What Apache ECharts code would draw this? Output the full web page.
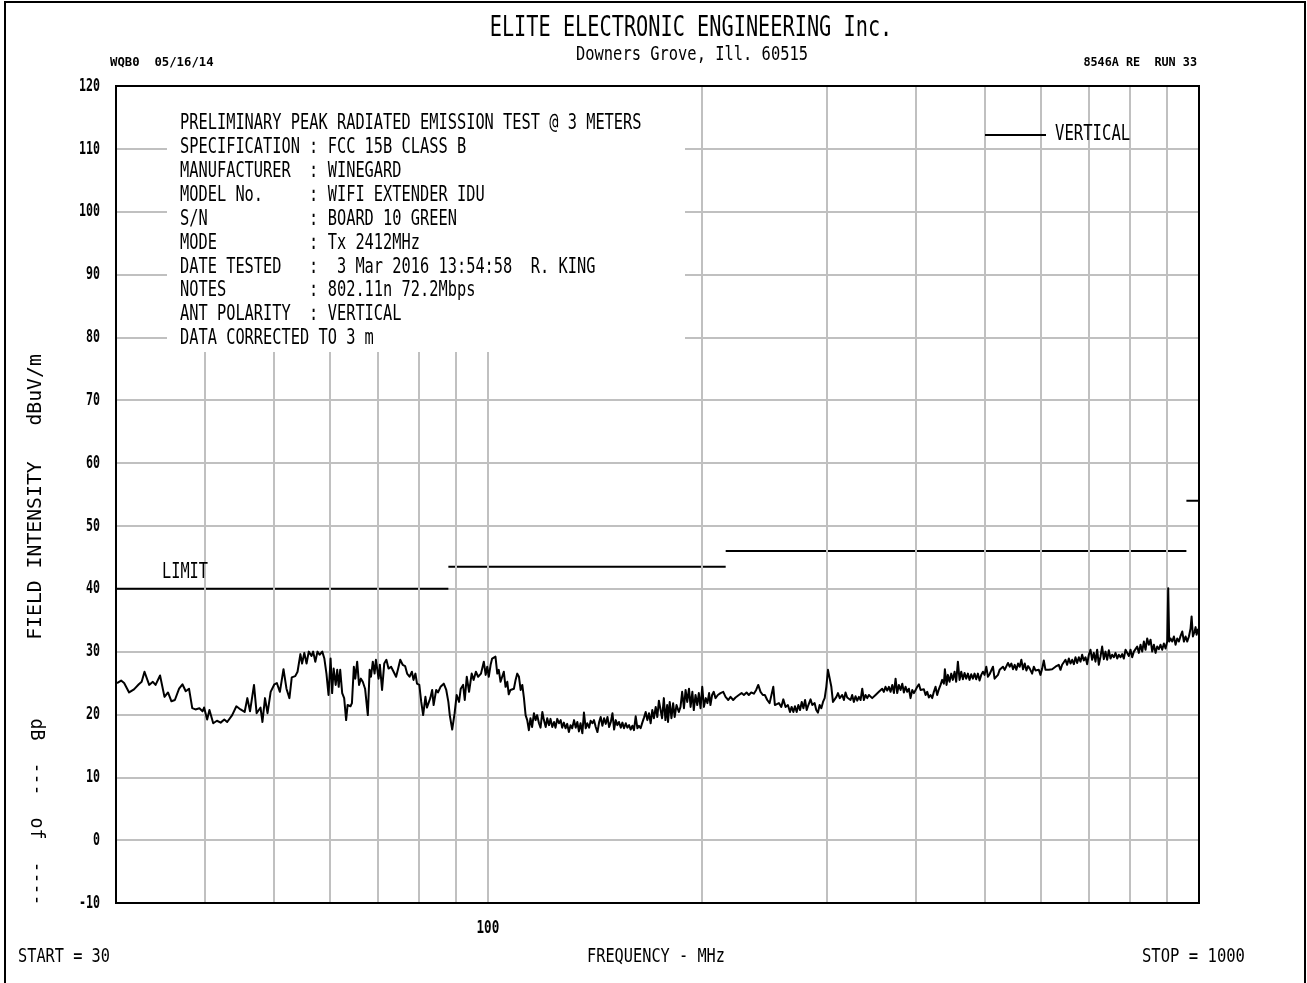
<!DOCTYPE html>
<html>
<head>
<meta charset="utf-8">
<script src="https://cdn.jsdelivr.net/npm/echarts@6/dist/echarts.min.js"></script>
<style>
  html, body { margin: 0; padding: 0; background: #fff; }
  #chart { width: 1307px; height: 983px; }
</style>
</head>
<body>
<div id="chart"></div>
<script>
// Peak radiated emission sweep, 30 MHz - 1 GHz, vertical antenna polarity.
const traceFreq = [
  30.1, 30.5, 30.8, 31.3, 31.8, 32.3, 32.6, 32.9, 33.4, 33.8, 34.1, 34.6, 35.1, 35.5, 35.9, 36.3, 36.8, 37.2, 37.6, 38.0,
  38.4, 38.8, 39.3, 39.7, 39.9, 40.3, 40.6, 41.1, 41.6, 42.1, 42.6, 43.0, 43.7, 44.3, 44.9, 45.5, 45.9, 46.3, 46.9, 47.3,
  47.9, 48.2, 48.6, 49.0, 49.5, 50.1, 50.5, 51.0, 51.6, 52.1, 52.6, 53.0, 53.6, 54.0,
  54.5, 54.8, 55.2, 55.6, 56.0, 56.5, 56.8, 57.2, 57.6, 58.0, 58.5, 58.9, 59.3, 59.7, 60.1, 60.4, 60.7, 61.1, 61.4, 61.7,
  62.0, 62.4, 62.8, 63.2, 63.5, 64.1, 64.4, 64.8, 65.1, 65.5, 65.9, 66.3, 66.7, 67.2, 67.8, 68.2, 68.5, 68.9, 69.3, 69.6,
  70.2, 70.5, 71.0, 71.5, 72.0, 72.5, 73.1, 73.7, 74.3, 74.8, 75.3, 75.9, 76.5, 77.0, 77.6, 78.2, 78.6, 79.1, 79.5, 80.1,
  80.6, 81.1, 81.7, 82.1, 82.5, 83.0, 83.5, 83.9, 84.6, 85.1, 85.8, 86.7, 87.4, 88.0, 88.4, 89.1, 89.8, 90.4, 91.1, 91.6,
  92.3, 92.8, 93.4, 94.1, 94.9, 95.5, 96.2, 96.9, 97.8,
  98.2, 98.7, 99.3, 99.8, 100.3, 100.9, 101.4, 102.0, 102.5, 103.1, 103.6, 104.2, 104.8, 105.3, 105.9, 106.5, 107.0, 107.6,
  108.2, 108.8, 109.4, 110.0, 110.6, 111.2, 111.8, 112.4, 113.0, 113.6, 114.2, 114.8, 115.4, 116.1, 116.7, 117.3, 118.0,
  118.6, 119.3, 119.9, 120.6, 121.2, 121.9, 122.5, 123.2, 123.9, 124.5, 125.2, 125.9, 126.6, 127.2, 127.9, 128.6, 129.3,
  130.0, 130.7, 131.4, 132.2, 132.9, 133.6, 134.3, 135.0, 135.8, 136.5, 137.3, 138.0, 138.8, 139.5, 140.3, 141.0, 141.8,
  142.6, 143.4, 144.1, 144.9, 145.7, 146.5, 147.3, 148.1, 148.9, 149.7, 150.5, 151.3, 152.1, 152.9, 153.8, 154.6, 155.4,
  156.3, 157.1, 158.0, 158.8, 159.7, 160.5, 161.4, 162.3, 163.1, 164.0, 164.9, 165.8, 166.7, 167.6, 168.5, 169.4, 170.3,
  171.2, 172.2, 173.1, 174.0,
  175.8, 176.8, 177.7, 178.7, 179.2, 180.2, 181.2, 182.2, 183.1, 184.2, 185.6, 186.6, 187.6, 188.7, 189.7, 190.7, 191.8,
  192.8, 193.9, 194.8, 195.9, 197.0, 198.0, 199.1, 200.2, 201.3, 202.5, 203.6, 204.7, 205.6, 206.7, 207.8, 209.0, 210.6,
  212.4, 214.3, 215.9, 217.8, 219.4, 221.3, 223.0, 225.4, 227.4, 229.1, 231.1, 232.8, 234.6, 236.6, 238.4, 240.0, 241.8,
  243.6, 245.2, 247.1, 249.0, 250.6, 252.0, 253.3, 254.7, 256.6, 258.6, 260.3, 262.2, 264.2, 266.0, 267.4, 268.9, 270.3,
  271.8, 273.3, 274.8, 276.3, 277.8, 279.3, 280.8, 282.3, 284.3, 285.9, 288.1, 289.6, 291.2, 292.8, 294.4, 296.0, 297.6,
  299.2, 300.8, 302.5, 304.1, 305.7, 307.4, 309.1, 310.7, 312.5,
  315.0, 316.7, 318.4, 320.1, 321.8, 323.6, 325.3, 327.1, 328.9, 330.7, 332.5, 334.3, 336.1, 337.9, 339.7, 341.6, 343.4,
  345.3, 347.1, 349.0, 350.9, 352.8, 354.7, 356.6, 358.5, 360.4, 362.4, 364.4, 366.4, 368.4, 370.4, 372.4, 374.4, 376.4,
  378.4, 380.5, 382.6, 384.6, 386.7, 388.8, 390.9, 393.0, 395.2, 397.3, 399.5, 401.6, 403.8, 406.0, 408.2, 410.3, 412.6,
  414.8, 417.0, 419.3, 421.6, 423.8, 426.1, 428.4, 430.7, 433.1, 435.4, 437.8, 439.2, 441.6, 443.5, 445.9, 448.3, 450.7,
  453.2, 455.6, 458.1, 460.6, 463.1, 465.6, 468.1, 470.6, 473.2, 475.7, 478.3, 480.9, 483.5, 486.1, 488.8, 491.4, 494.1,
  496.8, 499.4, 502.2, 504.9, 507.6, 510.4, 513.2, 515.9, 518.7, 521.6, 524.4, 527.2, 530.1, 533.0, 535.9, 538.8, 541.7,
  544.7, 547.6, 550.6, 553.6, 556.6, 559.6, 562.6, 565.7, 568.8, 571.9, 575.0, 578.1,
  582.6, 585.8, 588.9, 592.1, 595.3, 598.5, 601.8, 605.0, 608.3, 611.6, 614.9, 618.2, 621.6, 624.9, 628.3, 631.7, 635.1,
  638.6, 642.0, 645.5, 649.0, 652.5, 656.1, 659.6, 663.2, 666.8, 670.4, 674.0, 677.7, 681.3, 685.0, 688.7, 692.5, 696.2,
  700.0, 703.7, 707.5, 711.4, 715.2, 719.1, 723.0, 726.9, 730.8, 734.8, 738.8, 742.8, 746.8, 750.9, 754.9, 759.0, 763.1,
  767.3, 771.4, 775.6, 779.8, 784.0, 788.3, 792.5, 796.8, 801.1, 805.5, 809.8, 814.2, 818.6, 823.1, 827.5, 832.0, 836.5,
  841.0, 845.6, 850.2, 854.8, 859.4, 864.1, 868.7, 873.4, 878.2, 882.9, 887.7, 892.5, 897.4, 902.2, 905.1, 908.1, 912.0,
  917.0, 921.9, 926.9, 931.9, 937.0, 942.1, 947.2, 952.3, 957.5, 962.7, 967.9, 973.1, 976.3, 980.5, 985.8, 989.0, 992.2,
  996.5, 999.7
];

const traceLevel = [
  25.0, 25.4, 25.0, 23.5, 24.0, 24.8, 25.2, 26.8, 24.7, 25.2, 24.7, 26.2, 22.8, 23.5, 22.1, 22.3, 24.1, 24.8, 23.7, 24.1,
  21.0, 20.8, 21.0, 20.5, 21.1, 19.2, 20.7, 18.6, 19.0, 18.7, 19.2, 18.8, 19.9, 21.3, 20.8, 20.4, 22.6, 20.5, 24.7, 20.2,
  21.1, 18.8, 22.6, 20.2, 23.6, 24.8, 25.0, 23.6, 27.2, 24.1, 22.6, 25.9, 26.1, 26.8,
  29.6, 28.1, 29.8, 28.1, 30.0, 29.3, 30.0, 28.4, 30.0, 29.5, 30.0, 28.9, 26.5, 23.1, 28.9, 23.4, 27.3, 24.7, 27.1, 24.4,
  27.1, 23.4, 22.6, 19.1, 21.5, 21.3, 21.8, 27.6, 25.7, 28.4, 24.7, 25.7, 25.2, 24.1, 19.9, 27.1, 26.0, 28.4, 26.5, 28.7,
  25.7, 27.9, 23.9, 28.1, 28.7, 27.3, 27.6, 26.8, 26.0, 27.3, 28.7, 27.9, 27.7, 26.5, 26.0, 26.8, 25.5, 26.5, 24.9, 24.7,
  22.0, 19.9, 22.8, 21.1, 21.2, 22.6, 23.9, 21.5, 23.9, 23.5, 24.4, 24.9, 23.9, 22.0, 19.9, 17.6, 20.2, 23.1, 22.0, 24.1,
  24.7, 22.3, 26.0, 23.6, 26.5, 25.5, 26.8, 26.0, 26.5,
  26.5, 28.4, 26.3, 27.6, 26.0, 27.9, 28.9, 28.7, 29.2, 26.5, 27.1, 25.2, 25.5, 26.8, 24.4, 25.2, 23.2, 23.9,
  23.6, 24.1, 25.5, 26.5, 26.0, 23.9, 24.7, 22.6, 19.9, 19.1, 17.5, 19.4, 18.0, 20.2, 19.1, 19.9, 18.6,
  17.9, 20.4, 19.1, 18.0, 19.4, 18.3, 19.3, 18.0, 18.8, 17.9, 19.3, 18.6, 19.1, 17.9, 18.7, 17.8, 18.5,
  17.2, 18.3, 17.8, 19.1, 17.9, 18.8, 17.3, 18.6, 17.0, 20.3, 17.8, 18.6, 17.9, 19.0, 18.6, 19.1, 18.0,
  17.2, 18.8, 19.6, 18.2, 19.4, 18.5, 19.6, 18.0, 18.8, 20.2, 17.6, 19.1, 18.3, 18.8, 17.9, 18.7, 17.8,
  18.6, 17.9, 18.3, 17.6, 18.2, 17.5, 19.7, 17.8, 18.2, 17.8, 18.7, 19.5, 20.4, 19.1, 20.2, 18.6, 20.7,
  19.4, 21.2, 19.6, 22.2,
  19.4, 22.6, 19.1, 21.5, 18.8, 22.0, 19.4, 21.8, 19.6, 21.5, 20.4, 21.2, 23.6, 21.0, 23.9, 22.0, 24.1,
  21.2, 23.6, 20.7, 23.1, 21.5, 23.4, 21.0, 24.4, 21.2, 22.6, 21.8, 23.4, 21.5, 23.1, 23.6, 22.6, 23.1,
  23.4, 23.6, 22.8, 22.3, 22.8, 22.3, 22.7, 23.1, 23.4, 23.1, 23.5, 23.1, 23.5, 23.3, 23.9, 24.7, 23.6,
  23.1, 23.1, 22.3, 21.8, 21.5, 24.4, 21.5, 21.2, 21.8, 21.2, 22.4, 21.2, 21.5, 20.4, 21.2, 20.4, 21.3,
  20.4, 21.5, 20.7, 22.0, 21.0, 22.3, 20.7, 21.5, 22.4, 21.5, 21.8, 20.7, 20.3, 21.5, 21.0, 22.0, 22.6,
  24.4, 27.1, 27.3, 24.4, 22.0, 22.0, 22.8, 23.4, 22.6,
  23.1, 22.3, 23.5, 22.7, 22.9, 22.3, 23.1, 22.0, 22.9, 22.2, 22.8, 22.3, 24.1, 22.3, 23.1, 22.6, 23.1,
  22.9, 22.6, 22.7, 23.1, 23.2, 23.6, 23.5, 24.1, 23.6, 24.4, 23.8, 24.4, 23.6, 24.7, 23.4, 25.7, 23.4,
  24.7, 23.9, 24.9, 23.5, 24.4, 23.6, 24.1, 22.6, 23.9, 23.4, 23.9, 24.4, 24.8, 23.9, 23.6, 24.0, 23.1,
  23.6, 22.7, 23.1, 22.6, 23.6, 24.4, 23.1, 24.0, 24.7, 25.5, 24.9, 27.2, 24.7, 26.3, 25.2, 26.5, 25.5,
  26.8, 25.2, 28.4, 25.5, 26.8, 25.6, 26.6, 25.7, 26.5, 25.5, 26.4, 25.7, 26.5, 25.6, 26.5, 25.4, 26.3,
  26.8, 26.3, 27.6, 26.0, 26.4, 26.3, 27.6, 25.7, 26.0, 26.3, 27.1, 26.8, 27.6, 27.1, 27.3, 28.2, 27.6,
  28.1, 27.2, 27.9, 27.1, 28.1, 27.6, 28.7, 27.2, 28.1, 27.0, 27.7, 27.3,
  26.5, 27.6, 27.0, 27.3, 27.1, 26.3, 27.3, 28.6, 27.1, 27.3, 27.1, 27.3, 27.2, 27.3, 27.6, 27.3, 27.9,
  27.1, 27.9, 27.6, 28.7, 27.9, 28.9, 28.1, 28.7, 28.0, 29.1, 28.2, 29.1, 28.4, 29.5, 28.6, 29.1, 28.0,
  29.5, 30.3, 28.7, 29.8, 28.4, 30.3, 27.9, 29.2, 30.8, 28.8, 30.0, 28.7, 30.2, 28.9, 29.5, 29.1, 29.8,
  28.9, 29.5, 29.1, 29.6, 28.9, 30.3, 30.5, 29.3, 30.3, 29.1, 30.0, 30.3, 30.8, 29.8, 31.1, 30.0, 31.6,
  30.3, 32.1, 31.1, 31.9, 30.0, 31.1, 29.8, 30.8, 30.4, 31.1, 30.3, 31.3, 30.5, 31.6, 40.1, 31.6, 32.1,
  31.6, 32.4, 31.1, 32.1, 31.6, 32.5, 33.2, 31.6, 32.4, 31.6, 32.4, 33.7, 35.6, 32.4, 33.2, 33.9, 32.7,
  33.5, 32.9
];

// FCC Part 15 Class B radiated limit at 3 m (dBuV/m), stepped by band.
const limitStart = [30, 88, 216, 960];
const limitStop = [88, 216, 960, 1000];
const limitLevel = [40, 43.5, 46, 54];

// Frequency grid (MHz) drawn across the log axis, and the one labelled decade.
const gridFreqs = [40, 50, 60, 70, 80, 90, 100, 200, 300, 400, 500, 600, 700, 800, 900];
const freqTicks = [100];

// Level axis range, step and labelled ticks (dBuV/m).
const levelMin = -10;
const levelMax = 120;
const levelStep = 10;
const levelTicks = [-10, 0, 10, 20, 30, 40, 50, 60, 70, 80, 90, 100, 110, 120];

const headerLines = ['ELITE ELECTRONIC ENGINEERING Inc.', 'Downers Grove, Ill. 60515'];
const plotterId = 'WQB0  05/16/14';
const runId = '8546A RE  RUN 33';
const infoLabels = [
  'PRELIMINARY PEAK RADIATED EMISSION TEST @ 3 METERS',
  'SPECIFICATION', 'MANUFACTURER', 'MODEL No.', 'S/N', 'MODE',
  'DATE TESTED', 'NOTES', 'ANT POLARITY', 'DATA CORRECTED TO 3 m'
];
const infoValues = [
  '', 'FCC 15B CLASS B', 'WINEGARD', 'WIFI EXTENDER IDU', 'BOARD 10 GREEN', 'Tx 2412MHz',
  ' 3 Mar 2016 13:54:58  R. KING', '802.11n 72.2Mbps', 'VERTICAL', ''
];
const seriesName = 'VERTICAL';
const limitName = 'LIMIT';
const yTitle = 'FIELD INTENSITY   dBuV/m';
const yScaleNote = 'dB  ---  of  ----';
const startLabel = 'START = 30';
const stopLabel = 'STOP = 1000';
const xTitle = 'FREQUENCY - MHz';

// ---------------------------------------------------------------------------
const MONO = '"DejaVu Sans Mono", "Liberation Mono", monospace';
const GRID = { left: 116, top: 86, width: 1083, height: 817 };

// Plotter-style lettering: a monospaced face squeezed to a fixed character pitch.
function plotText(str, x, y, size, pitch, opt) {
  opt = opt || {};
  return {
    type: 'text',
    x: x, y: y,
    rotation: opt.rotation || 0,
    scaleX: pitch / (0.602 * size),
    z: 30,
    silent: true,
    style: {
      text: str,
      fill: '#000',
      font: (opt.weight || 'normal') + ' ' + size + 'px ' + MONO,
      textAlign: opt.align || 'left',
      textVerticalAlign: 'middle'
    }
  };
}

const traceData = traceFreq.map((f, i) => [f, traceLevel[i]]);
const limitData = [];
limitStart.forEach((s, i) => {
  limitData.push([s, limitLevel[i]], [limitStop[i], limitLevel[i]], [limitStop[i], '-']);
});

const chart = echarts.init(document.getElementById('chart'), null, { renderer: 'canvas' });
chart.setOption({
  animation: false,
  backgroundColor: '#fff',
  grid: Object.assign({ containLabel: false }, GRID),
  xAxis: {
    type: 'log',
    logBase: 10,
    min: 30,
    max: 1000,
    axisLine: { show: false },
    axisTick: { show: false },
    splitLine: { show: false },
    axisLabel: { show: false }
  },
  yAxis: {
    type: 'value',
    min: levelMin,
    max: levelMax,
    interval: levelStep,
    axisLine: { show: false },
    axisTick: { show: false },
    splitLine: { show: true, lineStyle: { color: '#c0c0c0', width: 2 } },
    axisLabel: { show: false }
  },
  series: [
    {
      name: 'grid',
      type: 'line',
      data: [],
      z: 1,
      silent: true,
      markLine: {
        silent: true,
        symbol: 'none',
        label: { show: false },
        lineStyle: { color: '#c0c0c0', width: 2, type: 'solid' },
        data: gridFreqs.map(f => ({ xAxis: f }))
      }
    },
    {
      name: limitName,
      type: 'line',
      data: limitData,
      z: 4,
      silent: true,
      showSymbol: false,
      connectNulls: false,
      lineStyle: { color: '#000', width: 2 }
    },
    {
      name: seriesName,
      type: 'line',
      data: traceData,
      z: 5,
      silent: true,
      showSymbol: false,
      lineStyle: { color: '#000', width: 2, join: 'round' }
    }
  ]
});

// Sheet lettering, frames and tick numbers (tick positions come from the axes' scales).
const graphics = [];
graphics.push({ type: 'rect', z: 40, silent: true, shape: { x: 5, y: 2, width: 1300, height: 995 },
  style: { fill: 'none', stroke: '#000', lineWidth: 2 } });
graphics.push({ type: 'rect', z: 40, silent: true, shape: { x: GRID.left, y: GRID.top, width: GRID.width, height: GRID.height },
  style: { fill: 'none', stroke: '#000', lineWidth: 2 } });
graphics.push({ type: 'rect', z: 20, silent: true, shape: { x: 167, y: 87, width: 518, height: 265 },
  style: { fill: '#fff' } });

levelTicks.forEach(v => {
  const py = chart.convertToPixel({ yAxisIndex: 0 }, v);
  graphics.push(plotText(String(v), 100, py, 18, 7.0, { weight: 'bold', align: 'right' }));
});
freqTicks.forEach(f => {
  const px = chart.convertToPixel({ xAxisIndex: 0 }, f);
  graphics.push(plotText(String(f), px, 928, 18, 7.6, { weight: 'bold', align: 'center' }));
});

graphics.push(plotText(headerLines[0], 691, 29, 28, 12.2, { align: 'center' }));
graphics.push(plotText(headerLines[1], 692, 55, 19, 9.28, { align: 'center' }));
graphics.push(plotText(plotterId, 110, 63, 13, 7.4, { weight: 'bold' }));
graphics.push(plotText(runId, 1197, 63, 13, 7.1, { weight: 'bold', align: 'right' }));

infoLabels.forEach((lab, i) => {
  const y = 124 + i * 23.85;
  graphics.push(plotText(lab, 180, y, 21, 9.23));
  if (infoValues[i] !== '') {
    graphics.push(plotText(':', 309, y, 21, 9.23));
    graphics.push(plotText(infoValues[i], 327.7, y, 21, 9.23));
  }
});

graphics.push({ type: 'line', z: 30, silent: true, shape: { x1: 985, y1: 135, x2: 1046, y2: 135 },
  style: { stroke: '#000', lineWidth: 2 } });
graphics.push(plotText(seriesName, 1055, 135, 21, 9.4));

graphics.push(plotText(limitName, 162, 573, 21, 9.2));

graphics.push(plotText(yTitle, 36, 497, 20, 11.9, { align: 'center', rotation: Math.PI / 2 }));
graphics.push(plotText(yScaleNote, 36, 812, 20, 11.0, { align: 'center', rotation: -Math.PI / 2 }));

graphics.push(plotText(startLabel, 18, 957, 20, 9.2));
graphics.push(plotText(xTitle, 656, 957, 20, 9.2, { align: 'center' }));
graphics.push(plotText(stopLabel, 1142, 957, 20, 9.36));

chart.setOption({ graphic: graphics });
</script>
</body>
</html>
